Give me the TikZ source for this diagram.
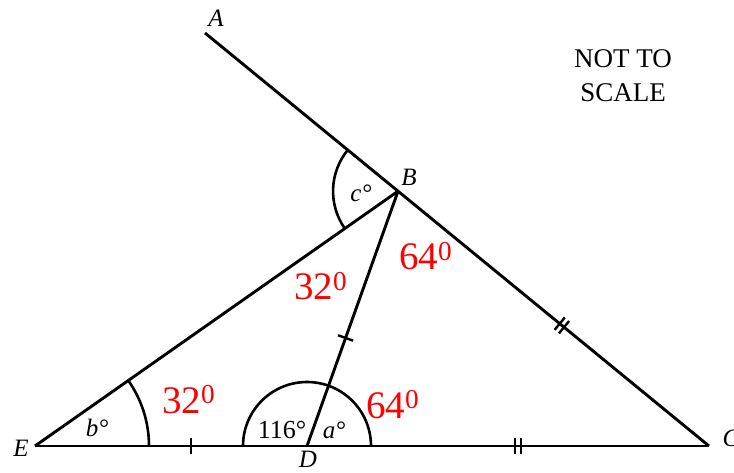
\documentclass[tikz,border=0pt]{standalone}
\usepackage{fontspec}
\setmainfont{Liberation Serif}
\usetikzlibrary{calc,angles,decorations.markings}
\begin{document}
\begin{tikzpicture}[x=1pt,y=1pt,
  seg/.style={line width=2.9pt, line cap=butt},
  arcline/.style={draw, line width=2.6pt},
  lbl/.style={font=\fontsize{25}{29}\selectfont\itshape, inner sep=0pt},
  anglbl/.style={font=\fontsize{26}{30}\selectfont, inner sep=0pt},
  redlbl/.style={font=\fontsize{39}{44}\selectfont, text=red, inner sep=0pt, anchor=base west},
  notelbl/.style={font=\fontsize{27}{32}\selectfont, inner sep=0pt, anchor=base},
  singletick/.style={postaction={decorate}, decoration={markings,
    mark=at position #1 with {\draw[line width=2.4pt] (0pt,-8pt) -- (0pt,8pt);}}},
  doubletick/.style={postaction={decorate}, decoration={markings,
    mark=at position #1 with {\draw[line width=2.4pt] (-2.8pt,-8pt) -- (-2.8pt,8pt);
                               \draw[line width=2.4pt] (2.8pt,-8pt) -- (2.8pt,8pt);}}}
]
\useasboundingbox (0,0) rectangle (734,472);

\coordinate (A) at (205,439);
\coordinate (C) at (709,26);
\coordinate (B) at ($(A)!0.383!(C)$);
\coordinate (D) at (307,26);
\coordinate (E) at (35,26);

% angle arcs
\pic[arcline, angle radius=114pt] {angle = D--E--B};
\pic[arcline, angle radius=64pt] {angle = C--D--E};
\pic[arcline, angle radius=65pt] {angle = A--B--E};

% lines
\draw[seg] (A) -- (B);
\draw[seg, doubletick=0.527] (B) -- (C);
\draw[seg] (E) -- (B);
\draw[seg, singletick=0.424] (D) -- (B);
\draw[seg, singletick=0.574] (E) -- (D);
\draw[seg, doubletick=0.525] (D) -- (C);

% point labels
\node[lbl] (lA) at (216,454) {A};
\node[lbl] (lB) at (409,295) {B};
\node[lbl] (lC) at (731,34) {C};
\node[lbl] (lD) at (308,13) {D};
\node[lbl] (lE) at (21,24) {E};

% angle labels
\node[lbl] (lc) at (361,279) {c°};
\node[lbl] (lb) at (97,44) {b°};
\node[anglbl] (l116) at (282,42) {116°};
\node[lbl] (la) at (334,42) {a°};

% red labels
\node[redlbl] (r1) at (294,172) {32\textsuperscript{0}};
\node[redlbl] (r2) at (399,202) {64\textsuperscript{0}};
\node[redlbl] (r3) at (162,59) {32\textsuperscript{0}};
\node[redlbl] (r4) at (366,54) {64\textsuperscript{0}};

% note
\node[notelbl] (n1) at (623,404) {NOT TO};
\node[notelbl] (n2) at (623,370) {SCALE};
\end{tikzpicture}
\end{document}
